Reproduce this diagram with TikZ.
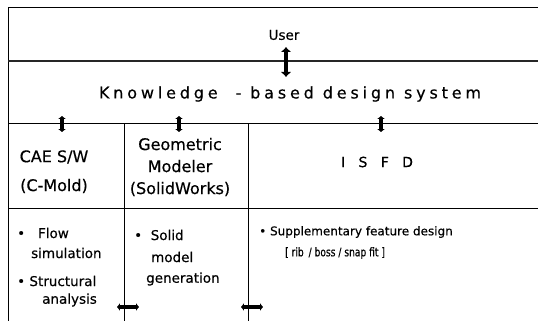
\documentclass[tikz,border=0pt]{standalone}
\usepackage{fontspec}
\setmainfont{DejaVu Sans}[FakeBold=0.4]
\usetikzlibrary{arrows.meta}
\begin{document}
\begin{tikzpicture}[x=1pt,y=-1pt,
  frame/.style={line width=0.8pt,black},
  dbl/.style={line width=1.8pt,black!85},
  fat/.style={line width=4pt,{Latex[length=5pt,width=11pt]}-{Latex[length=5pt,width=11pt]}},
  small/.style={line width=4.2pt,{Latex[length=2.8pt,width=8pt]}-{Latex[length=2.8pt,width=8pt]}},
  txt/.style={inner sep=0pt,font=\fontsize{16}{22}\selectfont},
  ltxt/.style={inner sep=0pt,font=\fontsize{13.5}{16}\selectfont,anchor=west},
  rtxt/.style={inner sep=0pt,font=\fontsize{12}{14}\selectfont,anchor=west}]
\useasboundingbox (0,0) rectangle (538,321);
% frame lines
\draw[frame] (8,321) -- (8,7) -- (538,7);
\draw[dbl] (8,61) -- (538,61);
\draw[frame] (8,123) -- (538,123);
\draw[frame] (8,208) -- (538,208);
\draw[frame] (124,123) -- (124,321);
\draw[frame] (248,123) -- (248,321);
% texts
\node[inner sep=0pt,font=\fontsize{13.5}{15}\selectfont] (user) at (284,35) {User};
\node[inner sep=0pt,font=\fontsize{16}{18}\selectfont\addfontfeature{LetterSpace=24}] (kbds) at (290,94) {Knowledge \ - based design system};
\node[txt] (cae) at (54,157) {CAE S/W};
\node[txt] (cae2) at (54,186) {(C-Mold)};
\node[txt,align=center] (geo) at (180,167) {Geometric\\Modeler\\(SolidWorks)};
\node[inner sep=0pt,font=\fontsize{14}{16}\selectfont] (isfd) at (377,162) {I\ \ \ S\ \ \ F\ \ \ D};
\node[ltxt] (b1) at (17,233) {•\ \ \ Flow};
\node[ltxt] (b1b) at (31,253) {simulation};
\node[ltxt] (b2) at (17,281) {• Structural};
\node[ltxt] (b2b) at (42,300) {analysis};
\node[ltxt] (s1) at (134,235) {•\ \ Solid};
\node[ltxt] (s1b) at (151,257) {model};
\node[ltxt] (s1c) at (146,279) {generation};
\node[rtxt] (f1) at (259,232) {• Supplementary feature design};
\node[rtxt,font=\fontsize{12}{14}\selectfont\addfontfeature{FakeStretch=0.76}] (f2) at (285,253) {[ rib \,/ boss / snap fit ]};
% arrow end points
\coordinate (u1) at (286,47);
\coordinate (u2) at (286,77);
\coordinate (c1) at (62,116);
\coordinate (c2) at (62,132);
\coordinate (g1) at (179,116);
\coordinate (g2) at (179,132);
\coordinate (i1) at (381,116);
\coordinate (i2) at (381,132);
\coordinate (h1) at (117,307);
\coordinate (h2) at (139,307);
\coordinate (k1) at (241,307);
\coordinate (k2) at (263,307);
\draw[fat] (u1) -- (u2);
\draw[small] (c1) -- (c2);
\draw[small] (g1) -- (g2);
\draw[small] (i1) -- (i2);
\draw[small] (h1) -- (h2);
\draw[small] (k1) -- (k2);
\end{tikzpicture}
\end{document}
